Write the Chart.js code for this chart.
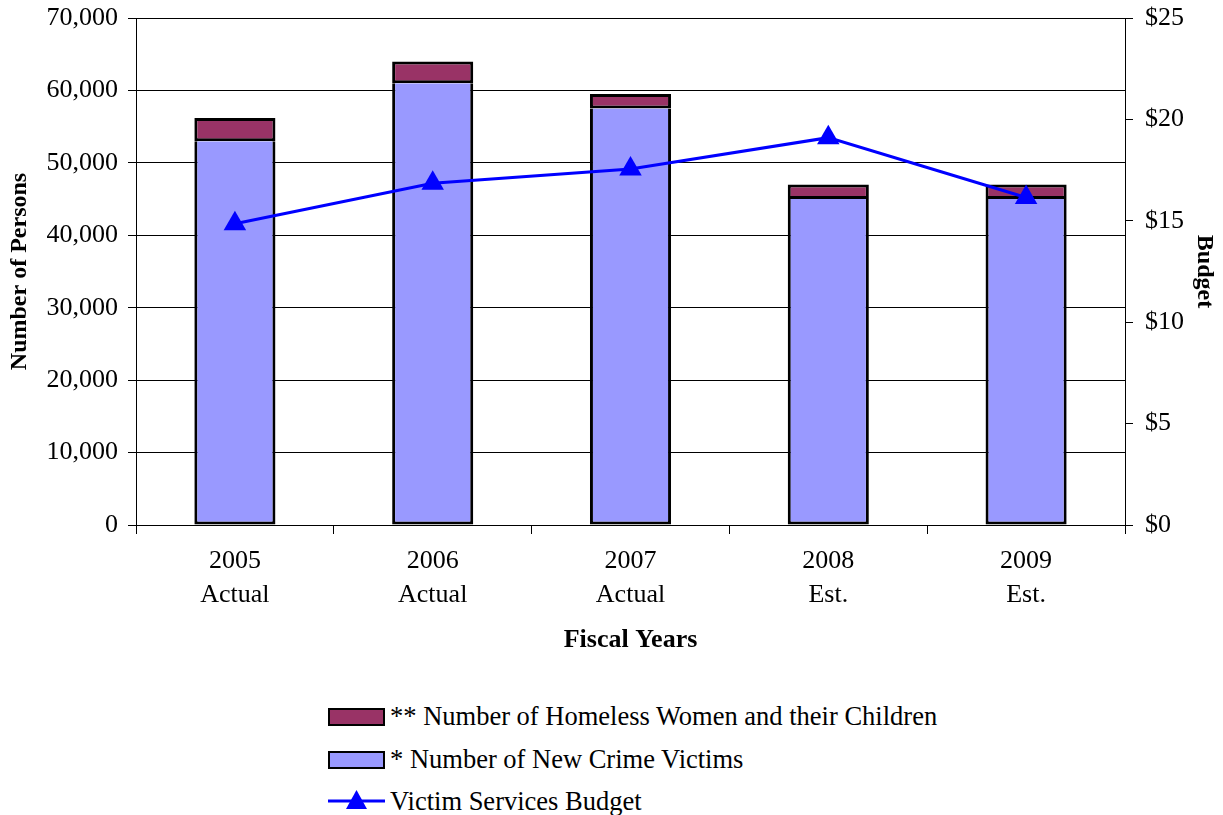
<!DOCTYPE html>
<html>
<head>
<meta charset="utf-8">
<script src="https://cdn.jsdelivr.net/npm/chart.js@4.4.1/dist/chart.umd.min.js"></script>
<style>
  body { margin: 0; background: #fff; font-family: "Liberation Serif", serif; }
  #wrap { position: relative; width: 1223px; height: 815px; }
  #chartBox { position: absolute; left: 0; top: 0; width: 1223px; height: 670px; }
  .legend { position: absolute; left: 328px; font-size: 26.5px; color: #000; }
  .legend .row { position: absolute; left: 0; white-space: nowrap; height: 30px; line-height: 30px; }
  .legend .box { position: absolute; left: 0; top: 7px; width: 53px; height: 14px; border: 2px solid #000; }
  .legend .txt { position: absolute; left: 62px; top: 0; }
</style>
</head>
<body>
<div id="wrap">
  <div id="chartBox"><canvas id="chart"></canvas></div>
  <div class="legend">
    <div class="row" style="top:701px"><div class="box" style="background:#993366"></div><span class="txt">** Number of Homeless Women and their Children</span></div>
    <div class="row" style="top:744px"><div class="box" style="background:#9999ff"></div><span class="txt">* Number of New Crime Victims</span></div>
    <div class="row" style="top:786px">
      <svg width="60" height="30" style="position:absolute;left:0;top:0">
        <line x1="0" y1="15" x2="57" y2="15" stroke="#0000ff" stroke-width="3"/>
        <polygon points="28.5,4 39,23 18,23" fill="#0000ff"/>
      </svg>
      <span class="txt">Victim Services Budget</span>
    </div>
  </div>
</div>
<script>
// fiscal years (two-line tick labels)
const years = [['2005', 'Actual'], ['2006', 'Actual'], ['2007', 'Actual'], ['2008', 'Est.'], ['2009', 'Est.']];

// persons (stacked bars)
const crimeVictims = [53000, 61000, 57500, 45000, 45000];
const homelessWomen = [3200, 3000, 2000, 2000, 2000];

// budget, $ millions (line on right axis)
const budget = [14.85, 16.85, 17.55, 19.1, 16.15];

const serif = 'Liberation Serif';

const ctx = document.getElementById('chart').getContext('2d');
new Chart(ctx, {
  type: 'bar',
  data: {
    labels: years,
    datasets: [
      {
        type: 'line',
        label: 'Victim Services Budget',
        data: budget,
        yAxisID: 'y1',
        borderColor: '#0000ff',
        backgroundColor: '#0000ff',
        borderWidth: 3,
        pointStyle: 'triangle',
        pointRadius: 13,
        pointHoverRadius: 13,
        pointBorderWidth: 0,
        tension: 0,
        order: 0
      },
      {
        label: '* Number of New Crime Victims',
        data: crimeVictims,
        backgroundColor: '#9999ff',
        borderColor: '#000',
        borderWidth: 3,
        borderSkipped: 'top', // the homeless segment above draws the seam
        barPercentage: 0.82,
        categoryPercentage: 0.5,
        stack: 'p',
        order: 1
      },
      {
        label: '** Number of Homeless Women and their Children',
        data: homelessWomen,
        backgroundColor: '#993366',
        borderColor: '#000',
        borderWidth: 3,
        borderSkipped: false,
        barPercentage: 0.82,
        categoryPercentage: 0.5,
        stack: 'p',
        order: 2
      }
    ]
  },
  options: {
    responsive: true,
    maintainAspectRatio: false,
    animation: false,
    layout: { padding: { top: 18, left: 0, right: 0, bottom: 0 } },
    plugins: {
      legend: { display: false },
      tooltip: { enabled: false }
    },
    scales: {
      x: {
        stacked: true,
        offset: true,
        grid: { offset: true, drawOnChartArea: false, color: '#000', tickLength: 9 },
        border: { color: '#000', width: 1 },
        ticks: { color: '#000', font: { family: serif, size: 26, lineHeight: 1.3 }, padding: 10, maxRotation: 0 },
        title: { display: true, text: 'Fiscal Years', color: '#000', font: { family: serif, size: 26, weight: 'bold' }, padding: { top: 0, bottom: 14 } },
        afterFit: s => { s.height = 145; s.paddingLeft = 0; s.paddingRight = 0; }
      },
      y: {
        stacked: true,
        position: 'left',
        min: 0,
        max: 70000,
        ticks: { stepSize: 10000, color: '#000', font: { family: serif, size: 26 }, padding: 10,
          callback: v => v.toLocaleString('en-US') },
        grid: { color: '#000', lineWidth: 1, tickLength: 8 },
        border: { color: '#000', width: 1 },
        title: { display: true, text: 'Number of Persons', color: '#000', font: { family: serif, size: 24, weight: 'bold' }, padding: { top: 5, bottom: 0 } },
        afterFit: s => { s.width = 136; s.paddingTop = 0; s.paddingBottom = 0; }
      },
      y1: {
        position: 'right',
        min: 0,
        max: 25,
        ticks: { stepSize: 5, color: '#000', font: { family: serif, size: 26 }, padding: 12,
          callback: v => '$' + v },
        grid: { drawOnChartArea: false, color: '#000', tickLength: 8 },
        border: { color: '#000', width: 1 },
        title: { display: true, text: 'Budget', color: '#000', font: { family: serif, size: 24, weight: 'bold' }, padding: { top: 4, bottom: 0 } },
        afterFit: s => { s.width = 98; s.paddingTop = 0; s.paddingBottom = 0; }
      }
    }
  }
});
</script>
</body>
</html>
